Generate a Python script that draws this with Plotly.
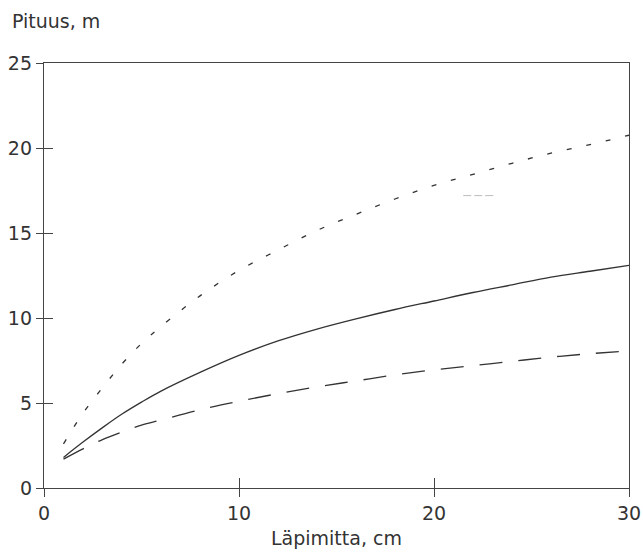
import plotly.graph_objects as go

# Diameter (cm)
diam = [1, 2, 3, 4, 5, 6, 8, 10, 12, 14, 16, 18, 20, 22, 24, 26, 28, 30]
# Height (m) for three curves
h_dotted = [2.6, 4.4, 5.9, 7.3, 8.5, 9.5, 11.3, 12.8, 14.0, 15.15, 16.1, 17.0, 17.8, 18.45, 19.1, 19.7, 20.2, 20.75]
h_solid = [1.8, 2.7, 3.55, 4.35, 5.05, 5.7, 6.8, 7.8, 8.65, 9.35, 9.95, 10.5, 11.0, 11.5, 11.95, 12.4, 12.75, 13.1]
h_dashed = [1.7, 2.3, 2.85, 3.3, 3.7, 4.0, 4.6, 5.1, 5.55, 5.95, 6.3, 6.65, 6.95, 7.2, 7.45, 7.7, 7.9, 8.06]
# faint stray mark in the original
stray_x = [21.5, 23.1]
stray_y = [17.2, 17.2]

x_ticks = [0, 10, 20, 30]
y_ticks = [0, 5, 10, 15, 20, 25]
x_title = "Läpimitta, cm"
y_title = "Pituus, m"

FONT = "DejaVu Sans"
INK = "#333333"
AX = "#444444"

fig = go.Figure()
fig.add_trace(go.Scatter(x=diam, y=h_dotted, mode="lines",
                         line=dict(color=INK, width=1.3, dash="5px,15px", shape="spline")))
fig.add_trace(go.Scatter(x=diam, y=h_solid, mode="lines",
                         line=dict(color=INK, width=1.3, shape="spline")))
fig.add_trace(go.Scatter(x=diam, y=h_dashed, mode="lines",
                         line=dict(color=INK, width=1.3, dash="23px,16px", shape="spline")))
fig.add_trace(go.Scatter(x=stray_x, y=stray_y, mode="lines",
                         line=dict(color="#bbbbbb", width=1, dash="8px,3px")))

fig.update_layout(
    width=643, height=559,
    margin=dict(l=44, r=14, t=63, b=71),
    paper_bgcolor="white", plot_bgcolor="white",
    showlegend=False,
    font=dict(family=FONT, size=19, color=INK),
    xaxis=dict(range=[0, 30], tickvals=x_ticks, ticks="outside", ticklen=8,
               tickcolor=AX, tickwidth=1, showline=True, linecolor=AX, linewidth=1.3,
               mirror=True, showgrid=False, zeroline=False, automargin=False,
               tickfont=dict(family=FONT, size=19, color=INK)),
    yaxis=dict(range=[0, 25], tickvals=y_ticks, ticks="outside", ticklen=7,
               tickcolor=AX, tickwidth=1, showline=True, linecolor=AX, linewidth=1.3,
               mirror=True, showgrid=False, zeroline=False, automargin=False,
               tickfont=dict(family=FONT, size=19, color=INK)),
    xaxis2=dict(range=[0, 30], overlaying="x", tickvals=x_ticks, ticks="inside",
                ticklen=10, tickcolor=AX, tickwidth=1, showticklabels=False,
                showline=False, showgrid=False, zeroline=False, side="bottom",
                automargin=False),
    yaxis2=dict(range=[0, 25], overlaying="y", tickvals=y_ticks, ticks="inside",
                ticklen=9, tickcolor=AX, tickwidth=1, showticklabels=False,
                showline=False, showgrid=False, zeroline=False, side="left",
                automargin=False),
    annotations=[
        dict(text=y_title, xref="paper", yref="paper", x=-0.058, y=(488 - 21) / 425,
             xanchor="left", yanchor="middle", showarrow=False,
             font=dict(family=FONT, size=19, color=INK)),
        dict(text=x_title, xref="paper", yref="paper", x=0.5, y=-(538 - 488) / 425,
             xanchor="center", yanchor="middle", showarrow=False,
             font=dict(family=FONT, size=19, color=INK)),
    ],
)
# invisible trace to activate overlay axes
fig.add_trace(go.Scatter(x=[None], y=[None], xaxis="x2", yaxis="y2", showlegend=False,
                         hoverinfo="skip"))

fig.write_html("out.html")
